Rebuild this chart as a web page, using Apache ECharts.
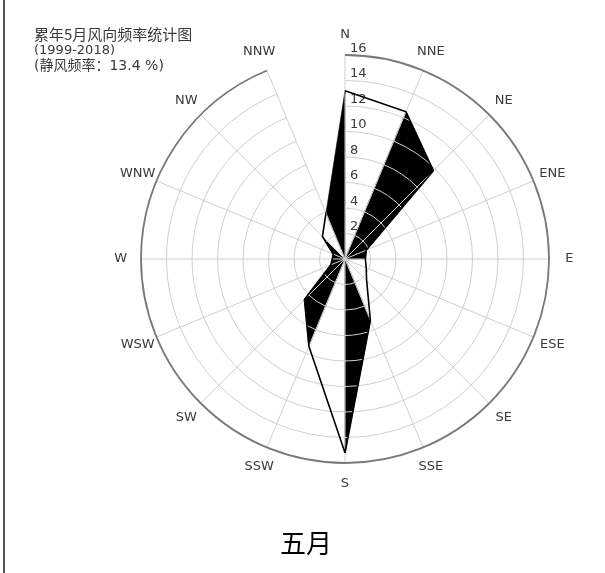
<!DOCTYPE html>
<html>
<head>
<meta charset="utf-8">
<script src="https://cdn.jsdelivr.net/npm/echarts@6/dist/echarts.min.js"></script>
<style>
  html, body { margin: 0; padding: 0; background: #fff; }
  #chart { width: 605px; height: 573px; }
</style>
</head>
<body>
<div id="chart"></div>
<script>
// 16 compass directions, clockwise from north
const directions = ['N', 'NNE', 'NE', 'ENE', 'E', 'ESE', 'SE', 'SSE',
                    'S', 'SSW', 'SW', 'WSW', 'W', 'WNW', 'NW', 'NNW'];
// wind direction frequency (%) for May, 1999-2018
const frequency = [13.2, 12.5, 9.8, 1.8, 1.6, 1.8, 2.4, 5.2,
                   15.2, 7.4, 4.5, 1.2, 1.0, 1.0, 2.5, 3.9];
// sectors shaded solid black, named by the direction they start from (clockwise)
const shadedSectors = ['NNW', 'NNE', 'NE', 'ENE', 'SSE', 'SSW', 'SW', 'WSW', 'W', 'WNW'];
// radial scale
const radiusMax = 16;
const radiusStep = 2;
// heading text
const titleLines = ['累年5月风向频率统计图', '(1999-2018)', '(静风频率：13.4 %)'];
const caption = '五月';

// direction names sit just outside the rim, centred on their spoke
const labelRadius = 17.6;

const sectorData = shadedSectors.map(function (d) {
  const i = directions.indexOf(d);
  const j = (i + 1) % directions.length;
  return [frequency[i], i, frequency[j], j];
});

const outlineData = directions.map(function (d, i) { return [frequency[i], d]; });
outlineData.push([frequency[0], directions[0]]);

const chart = echarts.init(document.getElementById('chart'), null, { renderer: 'canvas' });

chart.setOption({
  animation: false,
  backgroundColor: '#fff',
  polar: { center: [345, 259], radius: 204 },
  angleAxis: {
    type: 'category',
    data: directions,
    boundaryGap: false,
    startAngle: 90,
    clockwise: true,
    z: 3,
    axisLine: { show: true, lineStyle: { color: '#7a7a7a', width: 1.8 } },
    axisTick: { show: false },
    axisLabel: { show: false },
    splitLine: { show: true, lineStyle: { color: '#cfcfcf', width: 1 } }
  },
  radiusAxis: {
    type: 'value',
    min: 0,
    max: radiusMax,
    interval: radiusStep,
    z: 3,
    axisLine: { show: false },
    axisTick: { show: false },
    axisLabel: {
      margin: -5,
      align: 'left',
      verticalAlign: 'bottom',
      fontSize: 13,
      color: '#3a3a3a',
      fontFamily: 'DejaVu Sans',
      formatter: function (v) { return v === 0 ? '' : String(v); }
    },
    splitLine: { show: true, lineStyle: { color: '#cfcfcf', width: 1 } }
  },
  series: [
    {
      type: 'custom',
      coordinateSystem: 'polar',
      z: 1,
      silent: true,
      data: sectorData,
      encode: { radius: [0, 2], angle: [1, 3] },
      renderItem: function (params, api) {
        const c = api.coord([0, 0]);
        const p1 = api.coord([api.value(0), api.value(1)]);
        const p2 = api.coord([api.value(2), api.value(3)]);
        return {
          type: 'polygon',
          shape: { points: [c, p1, p2] },
          style: { fill: '#000', stroke: '#000', lineWidth: 0.6 }
        };
      }
    },
    {
      type: 'line',
      coordinateSystem: 'polar',
      z: 5,
      data: outlineData,
      symbol: 'none',
      silent: true,
      lineStyle: { color: '#000', width: 1.6 }
    },
    {
      // compass direction names around the rim
      type: 'custom',
      coordinateSystem: 'polar',
      z: 6,
      silent: true,
      data: directions.map(function (d, i) { return [labelRadius, i]; }),
      encode: { radius: 0, angle: 1 },
      renderItem: function (params, api) {
        const p = api.coord([api.value(0), api.value(1)]);
        return {
          type: 'text',
          x: p[0],
          y: p[1],
          style: {
            text: directions[params.dataIndex],
            align: 'center',
            verticalAlign: 'middle',
            font: '13px "DejaVu Sans"',
            fill: '#3a3a3a'
          }
        };
      }
    }
  ],
  graphic: [
    { type: 'line', shape: { x1: 4, y1: 0, x2: 4, y2: 573 }, style: { stroke: '#555', lineWidth: 2 } },
    { type: 'text', left: 34, top: 27, style: { text: titleLines[0], font: '15px "Noto Sans CJK SC"', fill: '#3a3a3a' } },
    { type: 'text', left: 34, top: 44, style: { text: titleLines[1], font: '13px "DejaVu Sans"', fill: '#3a3a3a' } },
    { type: 'text', left: 34, top: 59, style: { text: titleLines[2], font: '14px "DejaVu Sans", "Noto Sans CJK SC"', fill: '#3a3a3a' } },
    { type: 'text', left: 280, top: 530, style: { text: caption, font: '26px "Noto Sans CJK SC"', fill: '#000' } }
  ]
});
</script>
</body>
</html>
